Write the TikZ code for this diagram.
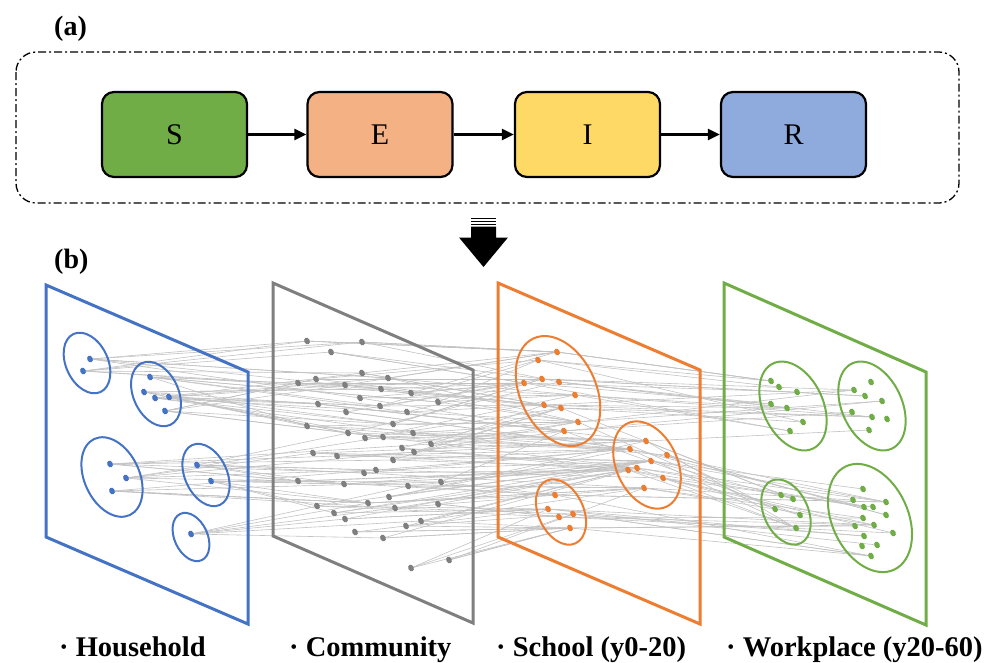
\documentclass[tikz,border=0pt]{standalone}
\usepackage{fontspec}
\setmainfont{Liberation Serif}
\usetikzlibrary{shapes.geometric,arrows.meta,backgrounds}

\definecolor{cblue}{HTML}{4472C4}
\definecolor{cgray}{HTML}{7F7F7F}
\definecolor{corange}{HTML}{ED7D31}
\definecolor{cgreen}{HTML}{70AD47}
\definecolor{fillS}{HTML}{70AD47}
\definecolor{fillE}{HTML}{F4B183}
\definecolor{fillI}{HTML}{FFD966}
\definecolor{fillR}{HTML}{8FAADC}
\definecolor{linkgray}{HTML}{C2C2C2}

% dot positions of the four contact layers
\def\hlist{90/359, 83/371, 150/377, 144/392, 155/398, 169/397, 165/411, 110/464, 126/478, 112/491, 197/465, 211/481, 191/534}
\def\clist{307/341, 362/342, 331/352, 362/373, 388/378, 298/383, 316/379, 345/385, 381/389, 411/393, 360/398, 438/402, 318/404, 346/412, 380/406, 407/412, 307/426, 393/424, 348/433, 365/438, 383/437, 413/433, 431/444, 402/448, 414/452, 313/453, 337/456, 393/460, 364/473, 376/470, 298/481, 344/484, 408/486, 441/482, 317/506, 334/513, 345/519, 368/503, 389/497, 395/508, 438/504, 421/521, 406/526, 355/532, 383/538, 411/568, 449/560}
\def\slist{557/352, 538/360, 524/383, 542/379, 559/382, 575/395, 544/405, 561/408, 578/422, 564/431, 646/441, 630/449, 667/455, 651/461, 637/468, 628/470, 663/478, 644/488, 555/495, 548/509, 559/517, 573/514, 570/528}
\def\wlist{771/381, 779/387, 797/392, 771/404, 787/408, 803/422, 790/431, 871/382, 854/390, 865/396, 882/401, 852/412, 872/417, 887/419, 869/430, 781/495, 793/499, 775/509, 800/515, 796/528, 863/489, 853/500, 864/507, 873/507, 886/502, 886/515, 863/518, 855/526, 874/525, 893/533, 864/536, 877/545, 862/546, 871/556}

\begin{document}
\begin{tikzpicture}[x=1pt,y=-1pt,
  stage/.style={draw=black, line width=2.2pt, rounded corners=12pt,
    minimum width=145pt, minimum height=85pt, inner sep=0pt,
    font=\fontsize{30}{32}\selectfont},
  flow/.style={line width=2.6pt, -{Triangle[length=12pt,width=11pt]}},
  panel/.style={line width=3pt, line join=miter},
  ring/.style={ellipse, draw, line width=2pt, inner sep=0pt, rotate=25},
  dot/.style={ellipse, inner sep=0pt, minimum width=5.5pt, minimum height=7pt, rotate=25},
  link/.style={draw=linkgray, line width=0.6pt},
  tag/.style={font=\bfseries\fontsize{28}{30}\selectfont, inner sep=0pt, anchor=base west},
  layername/.style={font=\bfseries\fontsize{28.5}{30}\selectfont, inner sep=0pt, anchor=base west}]

\useasboundingbox (0,0) rectangle (992,662);

% ---------- (a) SEIR compartments ----------
\node[tag] (ta) at (54,35) {(a)};
\draw[line width=1.3pt, dash pattern=on 8pt off 3pt on 2pt off 3pt, rounded corners=20pt]
  (16,52) rectangle (959,203);

\node[stage, fill=fillS] (S) at (174.5,134.5) {S};
\node[stage, fill=fillE] (E) at (380,134.5) {E};
\node[stage, fill=fillI] (I) at (587.5,134.5) {I};
\node[stage, fill=fillR] (R) at (793.5,134.5) {R};
\draw[flow] (S) -- (E);
\draw[flow] (E) -- (I);
\draw[flow] (I) -- (R);

% ---------- block arrow from (a) down to (b) ----------
\fill (471,218) rectangle (496,219.4);
\fill (471,220.9) rectangle (496,222.3);
\fill (471,223.8) rectangle (496,225.2);
\fill (471,226.6) -- (496,226.6) -- (496,237.5) -- (508,237.5) -- (483.5,267)
  -- (459,237.5) -- (471,237.5) -- cycle;

% ---------- (b) multilayer contact network ----------
\node[tag] (tb) at (54,268) {(b)};

% layer planes
\draw[panel, cblue]   (46,285) -- (248,372) -- (248,624) -- (46,537) -- cycle;
\draw[panel, cgray]   (273,283) -- (473,370) -- (473,623) -- (273,536) -- cycle;
\draw[panel, corange] (498,283) -- (700,370) -- (700,624) -- (498,537) -- cycle;
\draw[panel, cgreen]  (724,283) -- (926,372) -- (926,625) -- (724,537) -- cycle;

% households
\node[ring, draw=cblue, minimum width=42pt, minimum height=64pt] (hh1) at (87,363) {};
\node[ring, draw=cblue, minimum width=45pt, minimum height=68pt] (hh2) at (156,394) {};
\node[ring, draw=cblue, minimum width=55pt, minimum height=84pt] (hh3) at (112,477) {};
\node[ring, draw=cblue, minimum width=42pt, minimum height=66pt] (hh4) at (206,475) {};
\node[ring, draw=cblue, minimum width=33pt, minimum height=51pt] (hh5) at (191,537) {};
% schools
\node[ring, draw=corange, minimum width=76pt, minimum height=116pt] (sc1) at (558,391) {};
\node[ring, draw=corange, minimum width=61pt, minimum height=92pt] (sc2) at (647,465) {};
\node[ring, draw=corange, minimum width=45pt, minimum height=69pt] (sc3) at (561,512) {};
% workplaces
\node[ring, draw=cgreen, minimum width=60pt, minimum height=94pt] (wp1) at (793,406) {};
\node[ring, draw=cgreen, minimum width=60pt, minimum height=94pt] (wp2) at (872,406) {};
\node[ring, draw=cgreen, minimum width=44pt, minimum height=69pt] (wp3) at (786,512) {};
\node[ring, draw=cgreen, minimum width=76pt, minimum height=114pt] (wp4) at (870,518) {};

% individuals
\foreach \x/\y [count=\i] in \hlist {\node[dot, fill=cblue] (h\i) at (\x,\y) {};}
\foreach \x/\y [count=\i] in \clist {\node[dot, fill=cgray] (c\i) at (\x,\y) {};}
\foreach \x/\y [count=\i] in \slist {\node[dot, fill=corange] (s\i) at (\x,\y) {};}
\foreach \x/\y [count=\i] in \wlist {\node[dot, fill=cgreen] (w\i) at (\x,\y) {};}

% contacts between consecutive layers
\pgfmathsetseed{11}
\begin{pgfonlayer}{background}
  \foreach \x/\y [count=\i] in \hlist {
    \foreach \k in {1,...,6} {
      \pgfmathtruncatemacro{\j}{max(1,min(47,round(1+(\y-341)/227*46+rand*10)))}
      \draw[link] (h\i.center) -- (c\j.center);
    }
  }
  \foreach \x/\y [count=\i] in \clist {
    \foreach \k in {1,2,3} {
      \pgfmathtruncatemacro{\j}{max(1,min(23,round(1+(\y-341)/227*22+rand*5)))}
      \draw[link] (c\i.center) -- (s\j.center);
    }
  }
  \foreach \x/\y [count=\i] in \slist {
    \foreach \k in {1,2,3} {
      \pgfmathtruncatemacro{\j}{max(1,min(34,round(1+(\y-352)/176*33+rand*6)))}
      \draw[link] (s\i.center) -- (w\j.center);
    }
  }
\end{pgfonlayer}

% layer names
\node[layername] (n1) at (59,656) {· Household};
\node[layername] (n2) at (289,656) {· Community};
\node[layername] (n3) at (496,656) {· School (y0-20)};
\node[layername] (n4) at (726,656) {· Workplace (y20-60)};
\end{tikzpicture}
\end{document}
